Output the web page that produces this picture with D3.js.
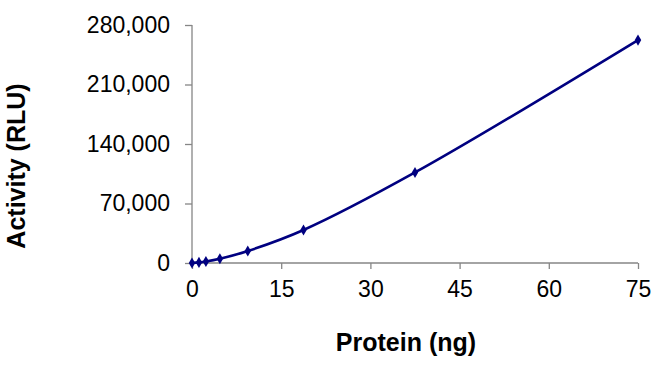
<!DOCTYPE html>
<html><head><meta charset="utf-8">
<script src="https://cdn.jsdelivr.net/npm/d3@7"></script>
<style>body{margin:0;background:#fff;}svg{display:block;}text{font-family:Arial,"Liberation Sans",sans-serif;fill:#000;}</style>
</head><body>
<svg id="c" width="664" height="365"></svg>
<script>
const protein = [0, 1.17, 2.34, 4.69, 9.38, 18.75, 37.5, 75];
const activity = [0, 700, 1800, 5000, 14100, 38800, 106500, 262300];
const xTicks = [0, 15, 30, 45, 60, 75];
const yTicks = [0, 70000, 140000, 210000, 280000];
const xTitle = "Protein (ng)";
const yTitle = "Activity (RLU)";

const svg = d3.select("#c");
const x = d3.scaleLinear().domain([0, 75]).range([192, 638]);
const y = d3.scaleLinear().domain([0, 280000]).range([263, 25]);
const axisColor = "#868686";

const gx = svg.append("g").attr("transform", "translate(0,263)")
  .call(d3.axisBottom(x).tickValues(xTicks).tickSize(6).tickPadding(12).tickFormat(d3.format("d")));
const gy = svg.append("g").attr("transform", "translate(192,0)")
  .call(d3.axisLeft(y).tickValues(yTicks).tickSize(7).tickPadding(15).tickFormat(d3.format(",")));
[gx, gy].forEach(g => {
  g.select(".domain").attr("stroke", axisColor).attr("stroke-width", 1.3);
  g.selectAll(".tick line").attr("stroke", axisColor).attr("stroke-width", 1.3);
  g.selectAll(".tick text").attr("font-size", 23).attr("fill", "#000")
    .attr("font-family", "Arial, 'Liberation Sans', sans-serif");
});
gy.select(".domain").attr("d", "M0,25V263");
gx.select(".domain").attr("d", "M0,0H446").attr("transform", "translate(192,0)");

const pts = protein.map((p, i) => [p, activity[i]]);
const line = d3.line().x(d => x(d[0])).y(d => y(d[1])).curve(d3.curveCatmullRom.alpha(0.5));
svg.append("path").attr("d", line(pts)).attr("fill", "none")
  .attr("stroke", "#000080").attr("stroke-width", 2.6);
svg.selectAll(".m").data(pts).enter().append("path")
  .attr("d", d3.symbol(d3.symbolDiamond, 36)())
  .attr("transform", d => `translate(${x(d[0])},${y(d[1])})`)
  .attr("fill", "#000080");

svg.append("text").text(xTitle).attr("x", 406).attr("y", 351)
  .attr("text-anchor", "middle").attr("font-size", 25).attr("font-weight", "bold");
svg.append("text").text(yTitle).attr("transform", "translate(25,166) rotate(-90)")
  .attr("text-anchor", "middle").attr("font-size", 25).attr("font-weight", "bold");
</script>
</body></html>
